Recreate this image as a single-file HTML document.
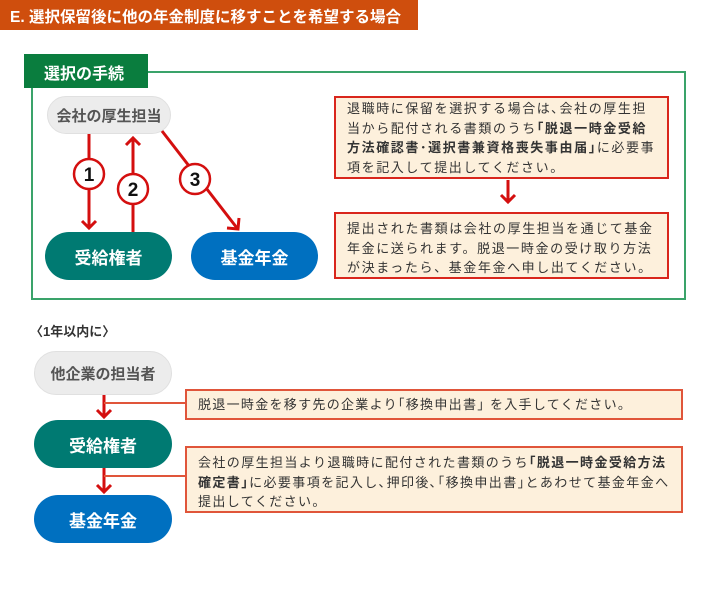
<!DOCTYPE html>
<html><head><meta charset="utf-8"><style>
body{margin:0;width:720px;height:602px;background:#fff;position:relative;overflow:hidden;font-family:"Liberation Sans","Noto Sans CJK JP",sans-serif;}
.a{position:absolute;box-sizing:border-box}
.pill{display:flex;align-items:center;justify-content:center;border-radius:24px;color:#fff;font-size:17px;font-weight:bold}
.gray{background:#ececec;color:#555;border:1px solid #e0e0e0;font-size:15px}
.box{background:#fdf0dc;border:2px solid #d9261c;font-size:13px;line-height:19.5px;color:#333;padding:5px 0 0 11px;white-space:nowrap}
b{font-weight:bold}
</style></head><body>
<div class="a" style="left:0;top:0;width:418px;height:30px;background:#cf4e0d;color:#fff;font-size:15.5px;font-weight:bold;padding:5px 0 0 10px">E. 選択保留後に他の年金制度に移すことを希望する場合</div>
<div class="a" style="left:31px;top:71px;width:655px;height:229px;border:2px solid #3aa36a"></div>
<div class="a" style="left:24px;top:54px;width:124px;height:34px;background:#0a7d3e;color:#fff;font-size:16px;font-weight:bold;padding:6px 0 0 20px">選択の手続</div>
<div class="a pill gray" style="left:47px;top:96px;width:124px;height:38px">会社の厚生担当</div>
<div class="a pill" style="left:45px;top:232px;width:127px;height:48px;background:#007a72">受給権者</div>
<div class="a pill" style="left:191px;top:232px;width:127px;height:48px;background:#0070c0">基金年金</div>
<div class="a box" style="left:334px;top:96px;width:335px;height:83px;letter-spacing:1.6px;padding-top:1px">退職時に保留を選択する場合は､会社の厚生担<br>当から配付される書類のうち<b>｢脱退一時金受給</b><br><b>方法確認書･選択書兼資格喪失事由届｣</b>に必要事<br>項を記入して提出してください。</div>
<div class="a box" style="left:334px;top:212px;width:335px;height:67px;letter-spacing:1.6px">提出された書類は会社の厚生担当を通じて基金<br>年金に送られます。脱退一時金の受け取り方法<br>が決まったら、基金年金へ申し出てください。</div>
<div class="a" style="left:30px;top:321px;font-size:13px;color:#333;font-weight:bold">〈1年以内に〉</div>
<div class="a pill gray" style="left:34px;top:351px;width:138px;height:44px">他企業の担当者</div>
<div class="a pill" style="left:34px;top:420px;width:138px;height:48px;background:#007a72">受給権者</div>
<div class="a pill" style="left:34px;top:495px;width:138px;height:48px;background:#0070c0">基金年金</div>
<div class="a box" style="left:185px;top:389px;width:498px;height:31px;border-color:#e0553a;padding-top:4px;letter-spacing:1.3px">脱退一時金を移す先の企業より｢移換申出書｣ を入手してください。</div>
<div class="a box" style="left:185px;top:446px;width:498px;height:67px;border-color:#e0553a;padding-top:5px;letter-spacing:1.4px">会社の厚生担当より退職時に配付された書類のうち<b>｢脱退一時金受給方法</b><br><b>確定書｣</b>に必要事項を記入し､押印後､｢移換申出書｣とあわせて基金年金へ<br>提出してください。</div>
<svg class="a" style="left:0;top:0" width="720" height="602">
<g stroke="#d40f0f" stroke-width="3" fill="none">
<line x1="89" y1="134" x2="89" y2="228"/><polyline points="82,221 89,228 96,221"/>
<line x1="133" y1="232" x2="133" y2="139"/><polyline points="126,145 133,138 140,145"/>
<line x1="162" y1="131" x2="237" y2="228"/><polyline points="227,228 238,229 239,218"/>
<line x1="508" y1="180" x2="508" y2="202"/><polyline points="501,195 508,202 515,195"/>
<line x1="104" y1="395" x2="104" y2="417"/><polyline points="97,410 104,417 111,410"/>
<line x1="104" y1="468" x2="104" y2="492"/><polyline points="97,485 104,492 111,485"/>
</g>
<g stroke="#e0553a" stroke-width="2"><line x1="104" y1="403" x2="185" y2="403"/><line x1="104" y1="476" x2="185" y2="476"/></g>
<g stroke="#d40f0f" stroke-width="2.5" fill="#fff"><circle cx="89" cy="174" r="15"/><circle cx="133" cy="189" r="15"/><circle cx="195" cy="179" r="15"/></g>
<g font-family="Liberation Sans, sans-serif" font-weight="bold" font-size="19" text-anchor="middle" fill="#111"><text x="89" y="181">1</text><text x="133" y="196">2</text><text x="195" y="186">3</text></g>
</svg>
</body></html>
